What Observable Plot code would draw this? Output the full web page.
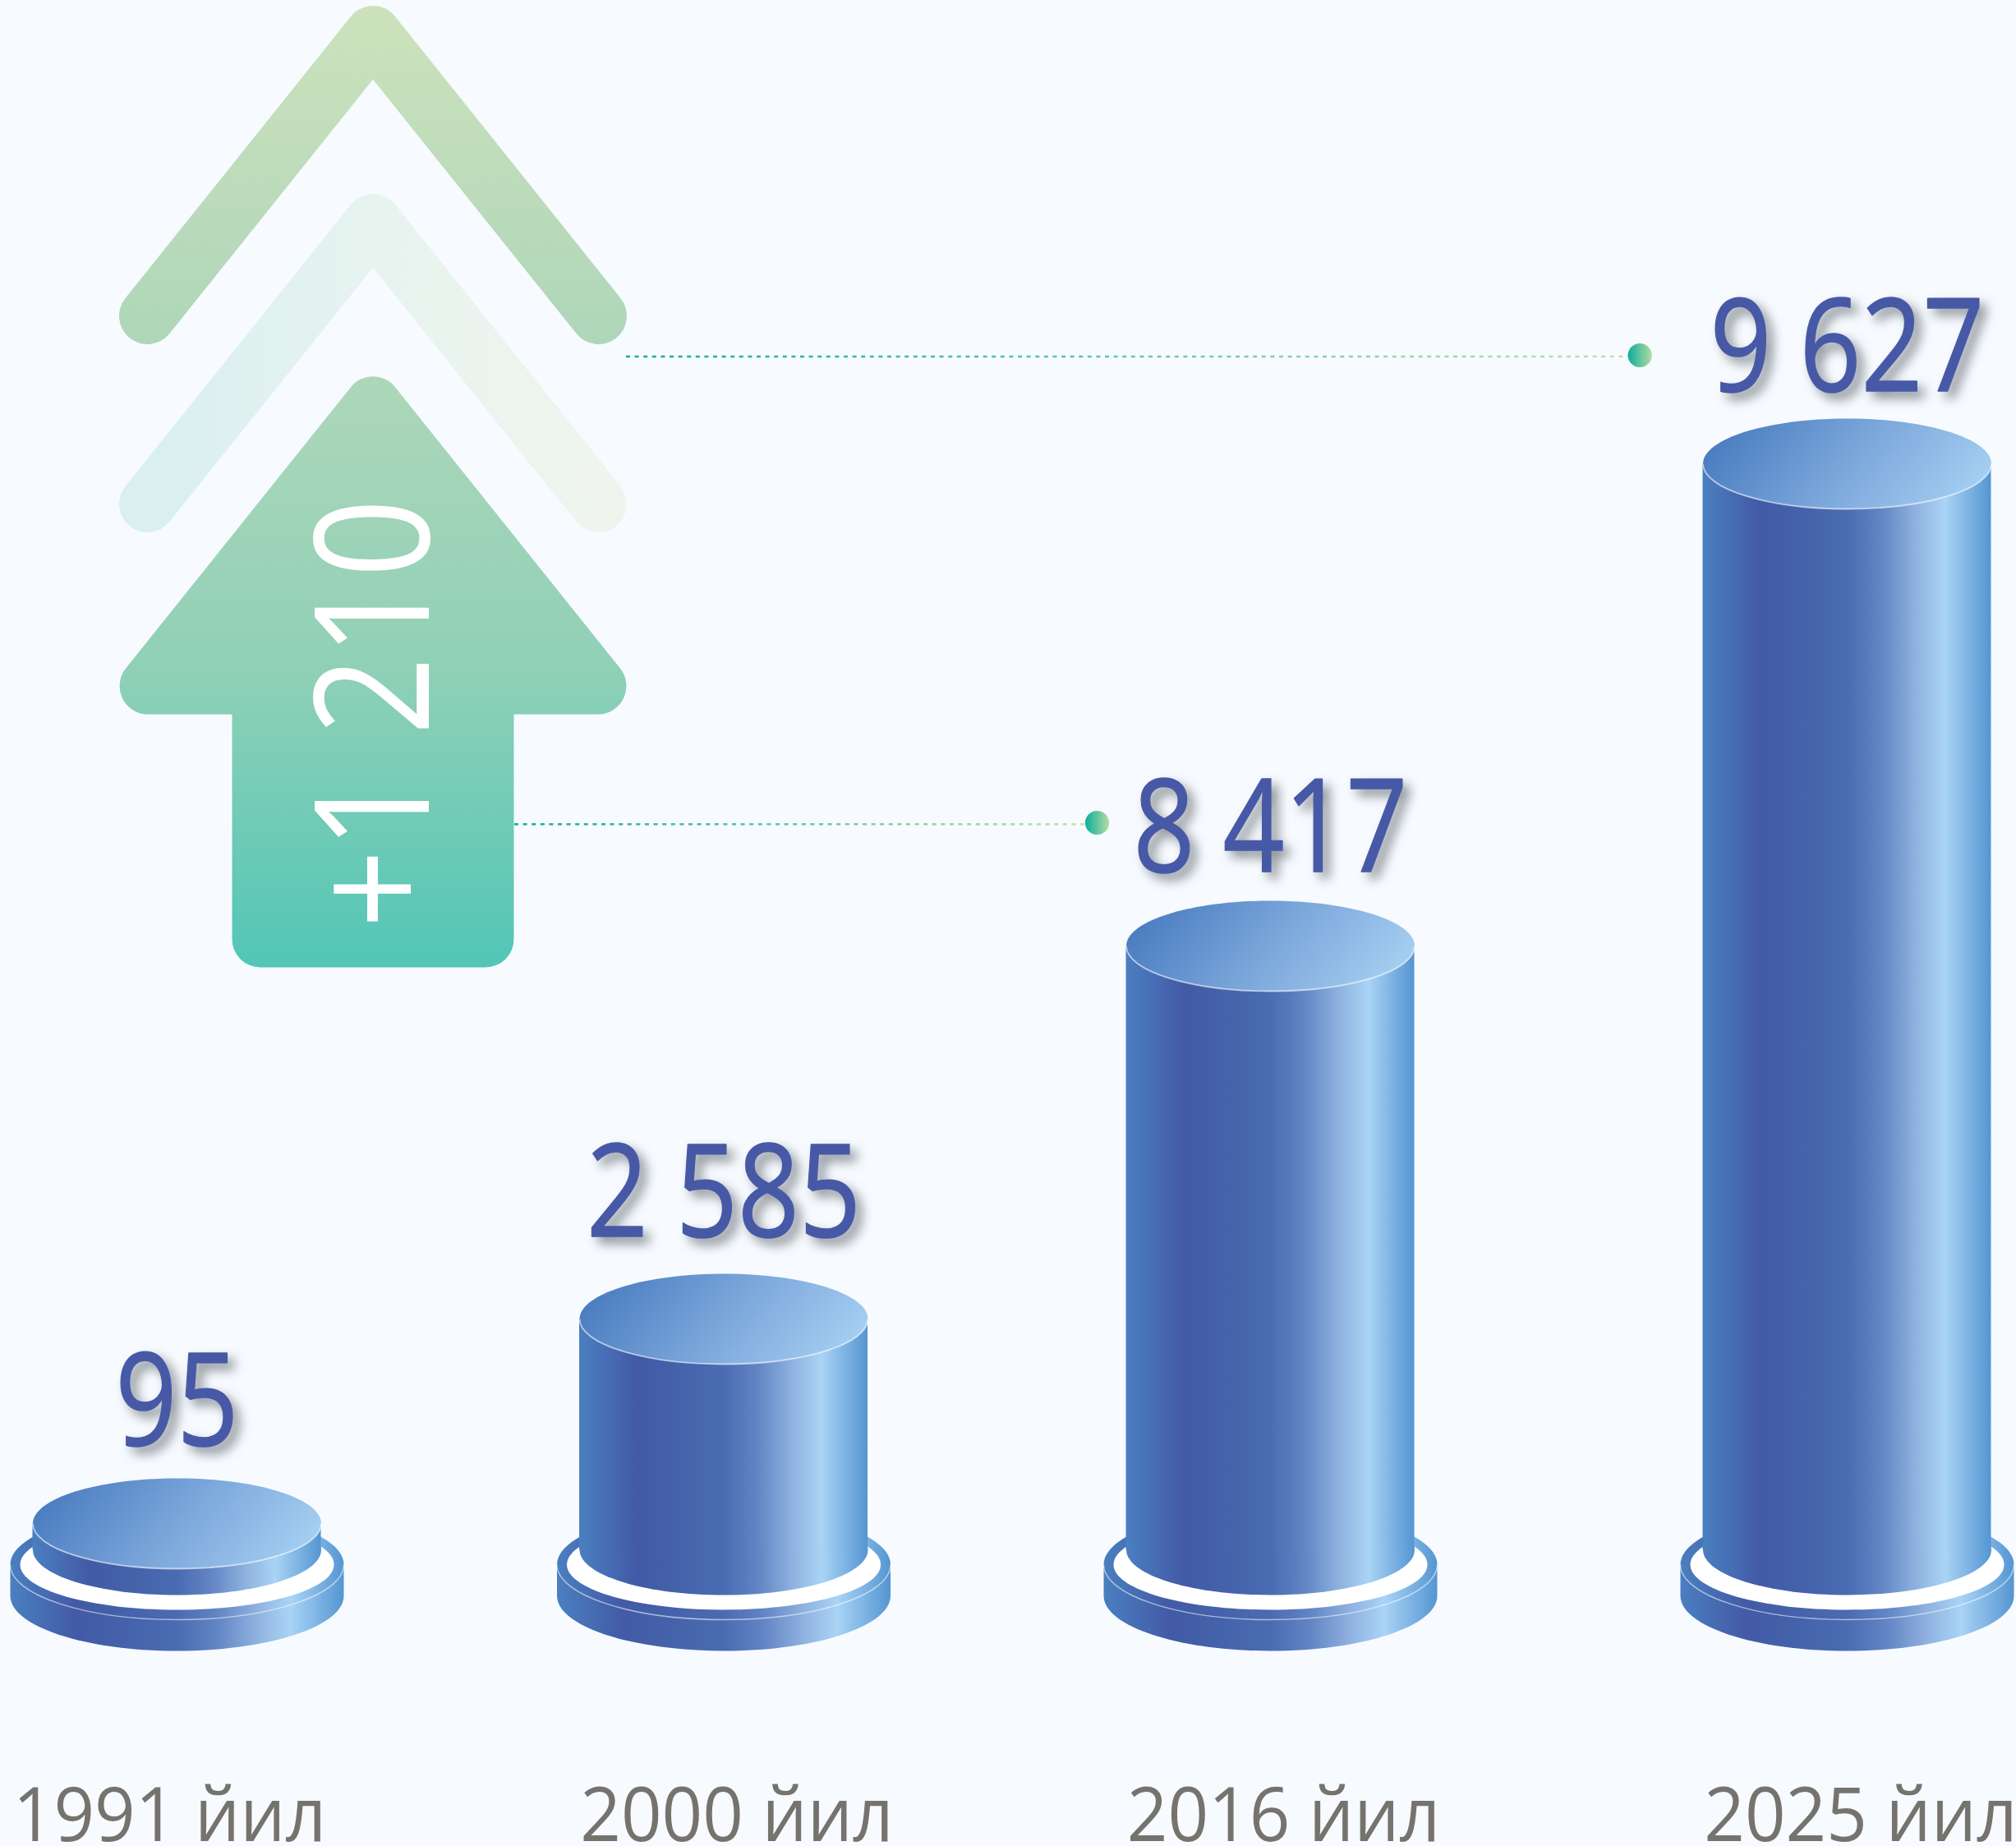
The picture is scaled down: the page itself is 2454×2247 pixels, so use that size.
<!DOCTYPE html>
<html>
<head>
<meta charset="utf-8">
<style>
html,body{margin:0;padding:0;background:#f7fbff;overflow:hidden}
svg{display:block}
</style>
<script src="https://cdn.jsdelivr.net/npm/d3@7"></script>
<script src="https://cdn.jsdelivr.net/npm/@observablehq/plot@0.6"></script>
</head>
<body>
<div id="chart"></div>
<script>
// ---- data
const years = [1991, 2000, 2016, 2025];
const values = [95, 2585, 8417, 9627];
const valueLabels = ["95", "2 585", "8 417", "9 627"];
const yearLabels = ["1991 йил", "2000 йил", "2016 йил", "2025 йил"];
const increase = ["+1 210"];

// ---- layout of the scales (the source is not to scale, so both are piecewise)
const xRange = [215, 880.5, 1546, 2248];
const yDomain = [0, ...values];
const yRange = [1886, 1854, 1605, 1151, 564];
const xPos = d3.scaleLinear().domain(years).range(xRange);
const yPos = d3.scaleLinear().domain(yDomain).range(yRange);
const X = px => xPos.invert(px);
const Y = py => yPos.invert(py);

const rows = years.map((year, i) => ({year, value: values[i], text: valueLabels[i], label: yearLabels[i], i}));
const labelStart = [18, 709, 1374, 2079];
const labelEnd = [394, 1084, 1750, 2450];
const valueBaseline = [1758, 1504, 1060, 475];

// ---- custom symbols
const K = 0.5523;
const ellipse = (rx, ry) => ({draw(c) {
  c.moveTo(-rx, 0);
  c.bezierCurveTo(-rx, -ry * K, -rx * K, -ry, 0, -ry);
  c.bezierCurveTo(rx * K, -ry, rx, -ry * K, rx, 0);
  c.bezierCurveTo(rx, ry * K, rx * K, ry, 0, ry);
  c.bezierCurveTo(-rx * K, ry, -rx, ry * K, -rx, 0);
  c.closePath();
}});
const smile = (rx, ry) => ({draw(c) {
  c.moveTo(-rx, 0);
  c.bezierCurveTo(-rx, ry * K, -rx * K, ry, 0, ry);
  c.bezierCurveTo(rx * K, ry, rx, ry * K, rx, 0);
}});
const disc = (rx, ry, h) => ({draw(c) {
  c.moveTo(-rx, 0);
  c.bezierCurveTo(-rx, -ry * K, -rx * K, -ry, 0, -ry);
  c.bezierCurveTo(rx * K, -ry, rx, -ry * K, rx, 0);
  c.lineTo(rx, h);
  c.bezierCurveTo(rx, h + ry * K, rx * K, h + ry, 0, h + ry);
  c.bezierCurveTo(-rx * K, h + ry, -rx, h + ry * K, -rx, h);
  c.closePath();
}});
const chevron = (top) => ({draw(c) {
  c.moveTo(179, top + 343);
  c.lineTo(453.5, top);
  c.lineTo(728, top + 343);
}});
const arrow = {draw(c) {
  const r = 34.5, ax = 453.5, ay = 437, sy = 869, lx = 107.8, rx = 799.2, s1 = 282, s2 = 625, b = 1177;
  c.moveTo(s1, sy);
  c.lineTo(s1, b - r);
  c.arcTo(s1, b, s1 + r, b, r);
  c.lineTo(s2 - r, b);
  c.arcTo(s2, b, s2, b - r, r);
  c.lineTo(s2, sy);
  c.lineTo(rx - r, sy);
  c.arcTo(rx, sy, rx - 20, sy - 25, r);
  c.arcTo(ax, ay, lx, sy, r);
  c.arcTo(lx, sy, lx + r, sy, r);
  c.closePath();
}};

const valueFont = 158, labelFont = 91, arrowFont = 195;
const condense = {[valueFont]: 0.83, [labelFont]: 0.955, [arrowFont]: 0.86};
const font = "'Open Sans', 'Noto Sans', sans-serif";

const chart = Plot.plot({
  width: 2454,
  height: 2247,
  margin: 0,
  style: {background: "#f7fbff"},
  x: {axis: null, type: "linear", domain: years, range: xRange},
  y: {axis: null, type: "linear", domain: yDomain, range: yRange},
  marks: [
    // chevrons and arrow
    Plot.dot([0], {frameAnchor: "top-left", symbol: chevron(41), fill: "none", stroke: "url(#chev1)", strokeWidth: 69, strokeLinecap: "round", strokeLinejoin: "round"}),
    Plot.dot([0], {frameAnchor: "top-left", symbol: chevron(270), fill: "none", stroke: "url(#chev2)", strokeWidth: 69, strokeLinecap: "round", strokeLinejoin: "round"}),
    Plot.dot([0], {frameAnchor: "top-left", symbol: arrow, fill: "url(#arrow)"}),
    Plot.text(increase, {text: d => d, frameAnchor: "top-left", dx: 521, dy: 868, rotate: -90, textAnchor: "middle", lineAnchor: "bottom", fontSize: arrowFont, fontFamily: font, fill: "#ffffff"}),

    // dotted leaders
    Plot.ruleY([{y: Y(433.4), a: X(762), b: X(1985)}], {y: "y", x1: "a", x2: "b", stroke: "url(#leadTop)", strokeWidth: 2.5, strokeDasharray: "5 5.6"}),
    Plot.ruleY([{y: Y(1002.7), a: X(626), b: X(1324)}], {y: "y", x1: "a", x2: "b", stroke: "url(#leadLow)", strokeWidth: 2.5, strokeDasharray: "5 5.6"}),
    Plot.dot([{x: X(1995.7), y: Y(432)}, {x: X(1335), y: Y(1001)}], {x: "x", y: "y", r: 14.6, fill: "url(#pin)"}),

    // base plates
    Plot.dot(rows, {x: "year", y: () => 0, dy: 18, symbol: disc(203, 67, 38), fill: "url(#side)"}),
    Plot.dot(rows, {x: "year", y: () => 0, dy: 18, symbol: smile(203, 67), fill: "none", stroke: "#ffffff", strokeOpacity: 0.55, strokeWidth: 1.5}),
    Plot.dot(rows, {x: "year", y: () => 0, dy: 18, symbol: ellipse(191, 55), fill: "#ffffff"}),

    // cylinders
    Plot.dot(rows, {x: "year", y: () => 0, symbol: ellipse(175.5, 55), fill: "url(#side)"}),
    Plot.rect(rows, {x1: d => X(xPos(d.year) - 175.5), x2: d => X(xPos(d.year) + 175.5), y1: () => 0, y2: "value", fill: "url(#side)"}),
    Plot.dot(rows, {x: "year", y: "value", symbol: ellipse(175.5, 55), fill: "url(#top)"}),
    Plot.dot(rows, {x: "year", y: "value", symbol: smile(175.5, 55), fill: "none", stroke: "#ffffff", strokeOpacity: 0.6, strokeWidth: 1.8}),

    // value labels with soft shadow
    Plot.text(rows, {x: "year", y: d => Y(valueBaseline[d.i]), text: "text", textAnchor: "middle", lineAnchor: "bottom", fontSize: valueFont, fontFamily: font, fill: "#4759a6", stroke: "#4759a6", strokeWidth: 1.5, imageFilter: "drop-shadow(8px 8px 7px rgba(80,88,96,0.65))"}),

    // year labels
    Plot.text(rows, {x: d => X((labelStart[d.i] + labelEnd[d.i]) / 2), y: Y(2240), text: "label", textAnchor: "middle", lineAnchor: "bottom", fontSize: labelFont, fontFamily: font, fill: "#76736f"})
  ]
});

// gradients
const stops = (sel, list) => list.forEach(([o, c]) => sel.append("stop").attr("offset", o).attr("stop-color", c));
const defs = d3.select(chart).insert("defs", ":first-child");
const grad = (id, attrs, list) => {
  const g = defs.append("linearGradient").attr("id", id);
  Object.entries(attrs).forEach(([k, v]) => g.attr(k, v));
  stops(g, list);
};
grad("side", {x1: 0, x2: 1, y1: 0, y2: 0}, [[0, "#4a7fc0"], [0.2, "#435aa6"], [0.3, "#4360a9"], [0.5, "#4a6bb2"], [0.62, "#6285c4"], [0.74, "#8fb2e0"], [0.84, "#a9d4f5"], [0.92, "#7fb4e4"], [1, "#5595d2"]]);
grad("top", {x1: 0, x2: 1, y1: 0.38, y2: 0.62}, [[0, "#4a7cc0"], [0.5, "#7aa6da"], [1, "#a6cff2"]]);
grad("chev1", {x1: 0, x2: 0, y1: -0.1, y2: 1.1}, [[0, "#cde2bc"], [1, "#aed6b9"]]);
grad("chev2", {x1: 0, x2: 1, y1: 0, y2: 0}, [[0, "#d9eff0"], [0.5, "#e7f3ef"], [1, "#eff5ee"]]);
grad("arrow", {x1: 0, x2: 0, y1: 0, y2: 1}, [[0, "#aed7b9"], [0.5, "#8fd0b7"], [1, "#52c6b6"]]);
grad("pin", {x1: 0, x2: 1, y1: 0, y2: 0}, [[0, "#0dae9b"], [1, "#b3dca3"]]);
const leadStops = [[0, "#0dae9b"], [1, "#bfe2a9"]];
grad("leadTop", {gradientUnits: "userSpaceOnUse", x1: 762, x2: 1985, y1: 0, y2: 0}, leadStops);
grad("leadLow", {gradientUnits: "userSpaceOnUse", x1: 626, x2: 1324, y1: 0, y2: 0}, leadStops);

document.getElementById("chart").appendChild(chart);

// condense the digits to the narrow look of the source face
d3.select(chart).selectAll("text").each(function () {
  const size = +this.closest("[font-size]").getAttribute("font-size").replace("px", "");
  const ratio = condense[size] || 1;
  this.setAttribute("textLength", this.getComputedTextLength() * ratio);
  this.setAttribute("lengthAdjust", "spacingAndGlyphs");
});
</script>
</body>
</html>
